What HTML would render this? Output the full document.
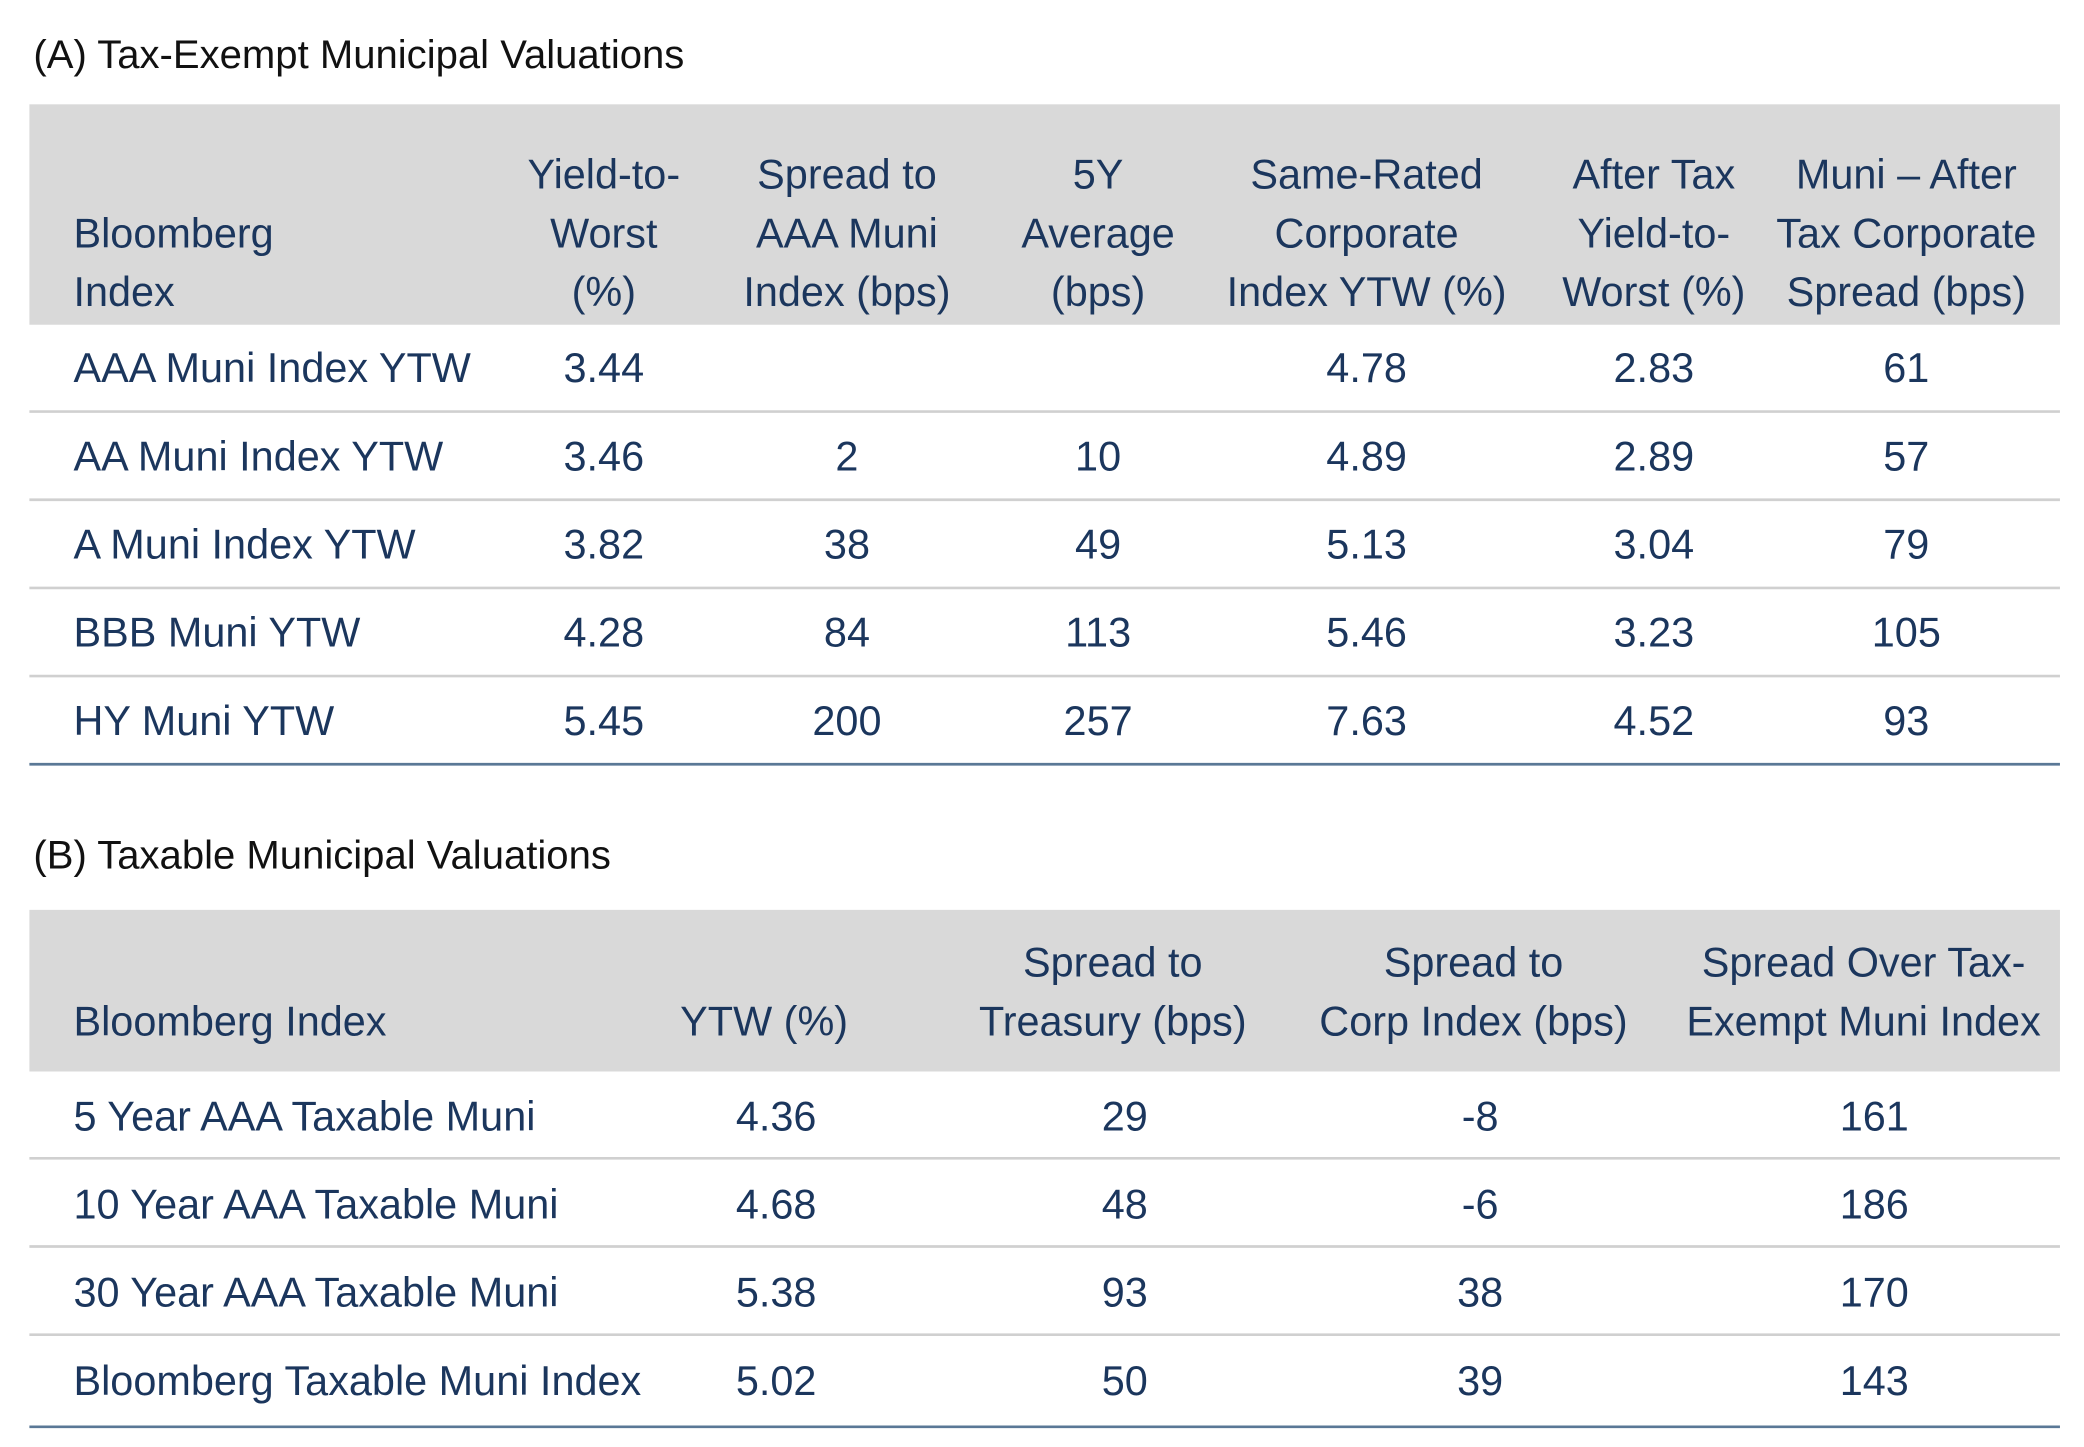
<!DOCTYPE html>
<html><head><meta charset="utf-8"><style>
html,body{margin:0;padding:0;background:#fff;}
svg{display:block;}
text{font-family:"Liberation Sans Narrow","Liberation Sans",sans-serif;fill:#1b365d;}
.t{fill:#111;font-size:30px;}
.h{font-size:31px;}
.c{font-size:31px;}
</style></head><body>
<svg width="2084" height="1447" viewBox="0 0 1560 1083" xmlns="http://www.w3.org/2000/svg">
<text class="t" x="25" y="51">(A) Tax-Exempt Municipal Valuations</text>
<rect x="22" y="78" width="1520" height="165" fill="#d9d9d9"/>
<g id="ha"></g>
<g id="ra"></g>
<text class="t" x="25" y="650">(B) Taxable Municipal Valuations</text>
<rect x="22" y="681" width="1520" height="121" fill="#d9d9d9"/>
<g id="hb"></g>
<g id="rb"></g>
</svg>
<script>
const NS="http://www.w3.org/2000/svg";
function txt(g,x,y,s,anchor,cls){const t=document.createElementNS(NS,'text');t.setAttribute('x',x);t.setAttribute('y',y);t.setAttribute('text-anchor',anchor);t.setAttribute('class',cls);t.textContent=s;


g.appendChild(t);}
function line(g,y,color,w){const l=document.createElementNS(NS,'line');l.setAttribute('x1',22);l.setAttribute('x2',1542);l.setAttribute('y1',y);l.setAttribute('y2',y);l.setAttribute('stroke',color);l.setAttribute('stroke-width',w);


g.appendChild(l);}
// Table A
const headA=[["Bloomberg","Index"],["Yield-to-","Worst","(%)"],["Spread to","AAA Muni","Index (bps)"],["5Y","Average","(bps)"],["Same-Rated","Corporate","Index YTW (%)"],["After Tax","Yield-to-","Worst (%)"],["Muni – After","Tax Corporate","Spread (bps)"]];
const colA=[55,452,634,822,1023,1238,1427];
const rowsA=[["AAA Muni Index YTW","3.44","","","4.78","2.83","61"],["AA Muni Index YTW","3.46","2","10","4.89","2.89","57"],["A Muni Index YTW","3.82","38","49","5.13","3.04","79"],["BBB Muni YTW","4.28","84","113","5.46","3.23","105"],["HY Muni YTW","5.45","200","257","7.63","4.52","93"]];
const ha=document.getElementById('ha'),ra=document.getElementById('ra');
headA.forEach((h,i)=>{const n=h.length;h.forEach((s,j)=>txt(ha,colA[i],229-(n-1-j)*44,s,i?'middle':'start','h'));});
rowsA.forEach((r,k)=>{const y=286+k*66;r.forEach((s,i)=>{if(s)txt(ra,colA[i],y,s,i?'middle':'start','c');});
 line(ra,308+k*66,k==rowsA.length-1?'#5a7896':'#d0d0d0',k==rowsA.length-1?2:2);});
// Table B
const headB=[["Bloomberg Index"],["YTW (%)"],["Spread to","Treasury (bps)"],["Spread to","Corp Index (bps)"],["Spread Over Tax-","Exempt Muni Index"]];
const hcolB=[55,572,833,1103,1395];
const colB=[55,581,842,1108,1403];
const rowsB=[["5 Year AAA Taxable Muni","4.36","29","-8","161"],["10 Year AAA Taxable Muni","4.68","48","-6","186"],["30 Year AAA Taxable Muni","5.38","93","38","170"],["Bloomberg Taxable Muni Index","5.02","50","39","143"]];
const hb=document.getElementById('hb'),rb=document.getElementById('rb');
headB.forEach((h,i)=>{const n=h.length;h.forEach((s,j)=>txt(hb,hcolB[i],775-(n-1-j)*44,s,i?'middle':'start','h'));});
rowsB.forEach((r,k)=>{const y=846+k*66;r.forEach((s,i)=>txt(rb,colB[i],y,s,i?'middle':'start','c'));
 line(rb,867+k*66+(k==rowsB.length-1?3:0),k==rowsB.length-1?'#5a7896':'#d0d0d0',2);});
</script>
</body></html>
